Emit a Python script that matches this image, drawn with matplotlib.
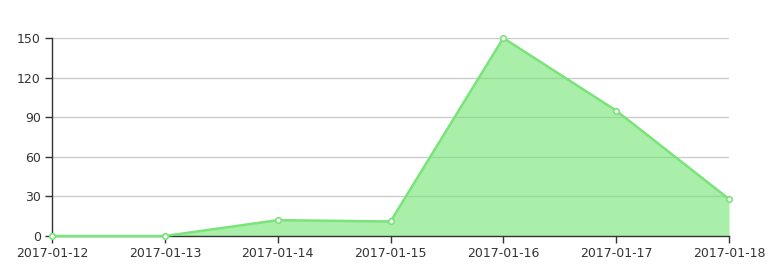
import matplotlib.pyplot as plt

dates = ['2017-01-12', '2017-01-13', '2017-01-14', '2017-01-15',
         '2017-01-16', '2017-01-17', '2017-01-18']
values = [0, 0, 12, 11, 150, 95, 28]
yticks = [0, 30, 60, 90, 120, 150]

fig = plt.figure(figsize=(7.79, 2.70), dpi=100)
ax = fig.add_axes([52 / 779, 34 / 270, 677 / 779, 198 / 270])

x = list(range(len(dates)))

# grid first, the fill is see-through so the lines show
for t in yticks[1:]:
    ax.axhline(t, color='#cccccc', lw=1, zorder=1)

ax.fill_between(x, values, 0, color='#74e474', alpha=0.62, lw=0, zorder=2)
ax.plot(x, values, color='#7ae47a', lw=1.8, zorder=3,
        marker='o', ms=4, mfc='white', mec='#7ae47a', mew=1.2, clip_on=False)

ax.set_xlim(0, len(dates) - 1)
ax.set_ylim(0, 150)
ax.set_xticks(x)
ax.set_xticklabels(dates)
ax.set_yticks(yticks)

for side in ['top', 'right']:
    ax.spines[side].set_visible(False)
for side in ['left', 'bottom']:
    ax.spines[side].set_color('#333333')
    ax.spines[side].set_linewidth(1)

ax.tick_params(axis='both', colors='#333333', labelcolor='#333333',
               labelsize=9, length=5, width=1)
ax.tick_params(axis='x', pad=3)
ax.tick_params(axis='y', pad=3)

plt.savefig('out.png', dpi=100)
